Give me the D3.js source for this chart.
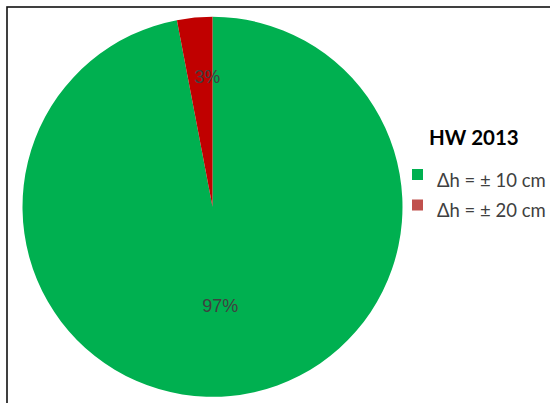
<!DOCTYPE html>
<html>
<head>
<meta charset="utf-8">
<script src="https://cdn.jsdelivr.net/npm/d3@7"></script>
<style>
  html, body { margin: 0; padding: 0; background: #fff; }
  svg { display: block; }
</style>
</head>
<body>
<svg id="chart" width="550" height="403"></svg>
<script>
// Share of height deviations, HW 2013
const categories = ["\u0394h = \u00b1 10 cm", "\u0394h = \u00b1 20 cm"];
const values = [97, 3];
const valueLabels = ["97%", "3%"];
const sliceColors = ["#00B050", "#C00000"];
const legendColors = ["#00B050", "#C0504D"];
const legendTitle = "HW 2013";

const svg = d3.select("#chart");
const W = 550, H = 403;

// chart frame (runs past the right and bottom edges)
svg.append("rect")
  .attr("x", 7).attr("y", 7)
  .attr("width", W + 20).attr("height", H + 20)
  .attr("fill", "none")
  .attr("stroke", "#111")
  .attr("stroke-width", 1.6);

const cx = 212.5, cy = 206.8, R = 190;

const pie = d3.pie().sort(null).startAngle(0).endAngle(2 * Math.PI);
const arcs = pie(values);
const arc = d3.arc().innerRadius(0).outerRadius(R);

const g = svg.append("g").attr("transform", `translate(${cx},${cy})`);

g.selectAll("path.slice")
  .data(arcs)
  .join("path")
  .attr("class", "slice")
  .attr("d", arc)
  .attr("fill", (d, i) => sliceColors[i]);

// data labels: big slice near middle, small slice further out
const labelRadius = [0.52, 0.69];
const labelShift = [-1.5, 7];
g.selectAll("text.pct")
  .data(arcs)
  .join("text")
  .attr("class", "pct")
  .attr("transform", (d, i) => {
    const r = R * labelRadius[i];
    const c = d3.arc().innerRadius(r).outerRadius(r).centroid(d);
    return `translate(${c[0] + labelShift[i]},${c[1]})`;
  })
  .attr("text-anchor", "middle")
  .attr("dy", "0.36em")
  .attr("font-family", "'Liberation Sans', Arial, sans-serif")
  .attr("font-size", 18)
  .attr("fill", "#404040")
  .text((d, i) => valueLabels[i]);

// legend
const lg = svg.append("g").attr("transform", "translate(412,0)");
lg.append("text")
  .attr("x", 17).attr("y", 145)
  .attr("font-family", "Lato, 'Open Sans', sans-serif")
  .attr("font-weight", "bold")
  .attr("font-size", 20.5)
  .attr("fill", "#000")
  .text(legendTitle);

const items = lg.selectAll("g.item")
  .data(categories)
  .join("g")
  .attr("class", "item")
  .attr("transform", (d, i) => `translate(0,${169 + i * 30.5})`);

items.append("rect")
  .attr("x", 0).attr("y", 0)
  .attr("width", 11).attr("height", 11)
  .attr("fill", (d, i) => legendColors[i]);

items.append("text")
  .attr("x", 25).attr("y", 17.5)
  .attr("font-family", "Lato, 'Open Sans', sans-serif")
  .attr("font-size", 18.5)
  .attr("fill", "#404040")
  .text(d => d);
</script>
</body>
</html>
